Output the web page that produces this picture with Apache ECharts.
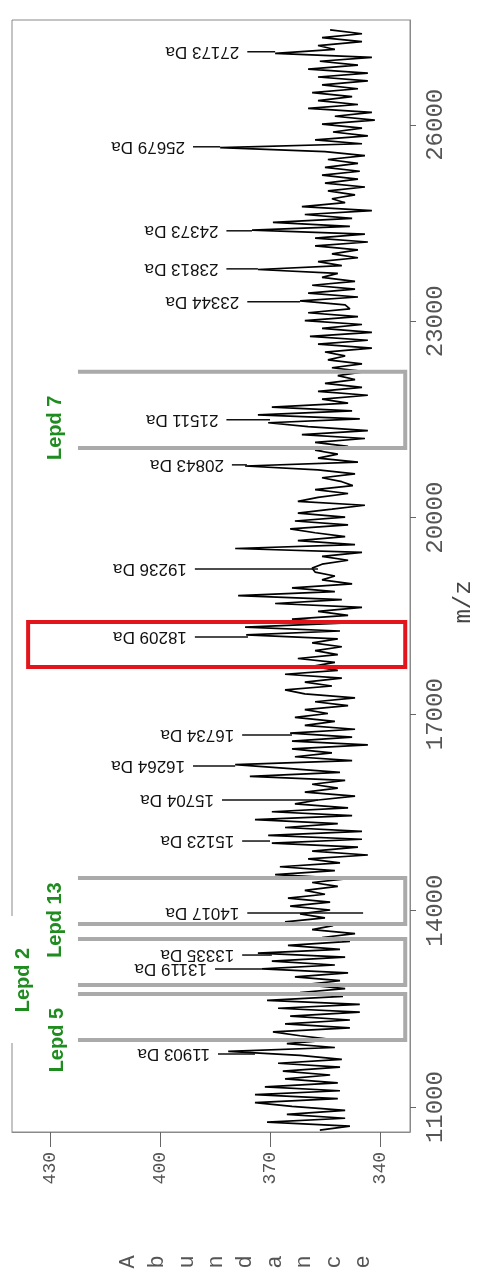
<!DOCTYPE html>
<html>
<head>
<meta charset="utf-8">
<title>Spectrum m/z</title>
<script src="https://cdn.jsdelivr.net/npm/echarts@6/dist/echarts.min.js"></script>
<style>
  html, body { margin: 0; padding: 0; background: #fff; }
  #chart { width: 493px; height: 1282px; }
</style>
</head>
<body>
<div id="chart"></div>
<script>
// spectrum: abundance read every 60 Da, starting at 10650 Da
const mzStart = 10650
const mzStep = 60
const abundance = [
  356.4, 348.2, 370.8, 349.5, 365.4, 349.5, 364.0, 374.1, 351.5, 374.1,
  350.9, 371.4, 351.5, 365.9, 353.6, 366.5, 350.9, 367.8, 350.4, 361.8,
  381.4, 352.3, 365.4, 352.8, 361.8, 369.2, 348.2, 365.9, 348.2, 364.5,
  345.5, 367.8, 345.5, 370.8, 350.1, 361.8, 349.5, 360.5, 350.9, 363.2,
  348.7, 372.2, 352.3, 369.5, 349.5, 373.3, 350.9, 365.1, 348.2, 355.8,
  346.8, 358.5, 352.8, 365.9, 355.0, 361.8, 353.6, 364.5, 353.6, 365.1,
  355.0, 360.5, 351.5, 358.5, 348.7, 368.6, 352.3, 367.3, 350.9, 359.6,
  343.3, 358.5, 346.0, 369.5, 344.9, 370.5, 344.9, 365.9, 351.5, 374.1,
  347.6, 369.5, 348.7, 363.2, 356.9, 346.8, 360.5, 351.5, 358.5, 349.5,
  375.5, 350.9, 364.5, 379.5, 347.6, 363.2, 353.1, 364.0, 343.3, 364.0,
  347.6, 364.5, 346.8, 360.5, 352.3, 363.2, 354.2, 360.5, 348.7, 357.7,
  346.8, 360.5, 365.9, 353.1, 360.5, 350.4, 365.9, 351.5, 358.5, 352.3,
  362.4, 351.5, 357.7, 350.4, 358.5, 351.5, 376.5, 350.9, 376.8, 350.4,
  364.0, 348.7, 356.9, 344.9, 368.6, 350.4, 378.7, 352.3, 364.0, 347.6,
  355.8, 352.3, 357.7, 358.5, 355.8, 348.7, 355.8, 344.9, 379.5, 346.8,
  362.4, 349.5, 357.7, 364.5, 348.7, 363.2, 349.5, 362.4, 353.1, 344.1,
  362.4, 356.9, 348.7, 357.7, 347.4, 350.4, 355.8, 346.8, 356.9, 376.8,
  346.0, 356.9, 351.5, 357.7, 348.7, 357.7, 344.1, 361.3, 343.3, 359.6,
  370.5, 345.5, 373.3, 347.6, 369.5, 348.7, 355.8, 343.3, 356.9, 344.9,
  355.0, 346.8, 351.5, 344.1, 353.1, 344.9, 354.2, 349.5, 355.0, 342.2,
  356.9, 343.3, 359.1, 342.2, 355.8, 344.9, 360.5, 346.0, 359.6, 348.2,
  349.5, 361.8, 346.0, 359.6, 346.8, 358.5, 346.8, 355.8, 351.5, 373.3,
  350.4, 356.9, 346.0, 353.1, 346.0, 357.7, 343.3, 357.7, 344.1, 374.9,
  348.2, 369.2, 347.6, 360.5, 342.2, 361.3, 349.5, 353.1, 346.8, 354.2,
  344.1, 355.0, 346.0, 355.8, 345.5, 355.0, 346.0, 354.2, 344.1, 355.0,
  383.6, 344.9, 357.7, 343.3, 352.8, 344.9, 355.8, 341.4, 352.3, 342.2,
  359.6, 346.0, 356.9, 347.6, 358.5, 346.0, 355.8, 343.3, 356.9, 343.3,
  359.6, 346.0, 356.4, 342.2, 368.6, 352.3, 356.9, 344.9, 355.8, 344.9,
  353.6
]

// labelled peaks (leader line runs from lineFrom to lineTo, in abundance)
const peakLabels = ['27173 Da', '25679 Da', '24373 Da', '23813 Da', '23344 Da', '21511 Da',
  '20843 Da', '19236 Da', '18209 Da', '16734 Da', '16264 Da', '15704 Da', '15123 Da',
  '14017 Da', '13335 Da', '13119 Da', '11903 Da']
const peakMz = [27115, 25664, 24381, 23800, 23296, 21494, 20807, 19218, 18179, 16682,
  16209, 15689, 15063, 13963, 13322, 13108, 11810]
const peakLineFrom = [376.2, 391.0, 381.9, 381.9, 376.2, 381.9, 380.4, 390.5, 390.5, 377.6,
  391.0, 383.1, 377.6, 376.2, 377.6, 385.0, 384.2]
const peakLineTo = [368.6, 383.6, 374.9, 373.3, 361.8, 370.0, 376.3, 356.9, 376.0, 364.0,
  379.5, 356.9, 370.0, 344.6, 369.5, 372.2, 374.1]

// Lepd regions
const lepdNames = ['Lepd 7', 'Lepd 13', 'Lepd 2', 'Lepd 5']
const lepdMzLow = [21066, 13795, 12864, 12023]
const lepdMzHigh = [22227, 14498, 13566, 12726]
const lepdLabelAbund = [428.6, 428.6, 437.4, 428.1]
const lepdLabelMz = [21372, 13856, 12940, 12023]
const boxAbundRange = [422.4, 333.1]

// highlighted region (red box)
const redMz = [17721, 18408]
const redAbundRange = [436.0, 333.1]

const mzTicks = [11000, 14000, 17000, 20000, 23000, 26000]
const abundTicks = [340, 370, 400, 430]
const titleLetters = ['A', 'b', 'u', 'n', 'd', 'a', 'n', 'c', 'e']

const spectrum = abundance.map((a, i) => [a, mzStart + i * mzStep])
const mono = '"Liberation Mono", "DejaVu Sans Mono", monospace'

const myChart = echarts.init(document.getElementById('chart'), null, { renderer: 'canvas' })

const option = {
  animation: false,
  backgroundColor: '#fff',
  grid: {
    left: 12,
    right: 83,
    top: 20,
    bottom: 150,
    show: true,
    borderColor: '#8a8a8a',
    borderWidth: 1
  },
  xAxis: {
    type: 'value',
    inverse: true, // abundance grows to the left
    min: 331.8,
    max: 440.4,
    position: 'bottom',
    splitLine: { show: false },
    axisLine: { show: true, lineStyle: { color: '#8a8a8a', width: 1 } },
    axisTick: { show: true, customValues: abundTicks, length: 15, lineStyle: { color: '#666' } },
    axisLabel: {
      customValues: abundTicks,
      rotate: 90,
      margin: 20,
      color: '#555',
      fontFamily: mono,
      fontSize: 18
    }
  },
  yAxis: {
    type: 'value',
    position: 'right',
    min: 10620,
    max: 27600,
    splitLine: { show: false },
    axisLine: { show: true, lineStyle: { color: '#8a8a8a', width: 1 } },
    axisTick: { show: true, customValues: mzTicks, length: 6, lineStyle: { color: '#666' } },
    axisLabel: {
      customValues: mzTicks,
      rotate: 90,
      margin: 14,
      color: '#555',
      fontFamily: mono,
      fontSize: 24,
      formatter: (v) => String(v)
    }
  },
  graphic: [
    // white patch over the frame behind the Lepd 2 / Lepd 5 labels
    { type: 'rect', z: 1, silent: true, shape: { x: 0, y: 916, width: 73, height: 127 }, style: { fill: '#fff' } },
    { type: 'text', x: 464, y: 602, rotation: Math.PI / 2, style: { text: 'm/z', font: '24px ' + mono, fill: '#444', align: 'center', verticalAlign: 'middle' } }
  ].concat(titleLetters.map((ch, i) => ({
    type: 'text',
    x: 128 + i * 29.4,
    y: 1262,
    rotation: Math.PI / 2,
    style: { text: ch, font: '22px ' + mono, fill: '#555', align: 'center', verticalAlign: 'middle' }
  }))),
  series: [
    {
      name: 'spectrum',
      type: 'line',
      data: spectrum,
      showSymbol: false,
      symbol: 'none',
      lineStyle: { color: '#000', width: 1.7 },
      z: 2
    },
    {
      // Lepd boxes, open on the left
      name: 'lepd boxes',
      type: 'custom',
      z: 4,
      data: lepdMzLow.map((m, i) => [m, lepdMzHigh[i], boxAbundRange[0], boxAbundRange[1]]),
      encode: { x: [2, 3], y: [0, 1] },
      renderItem (params, api) {
        const a = api.coord([api.value(2), api.value(0)])
        const b = api.coord([api.value(3), api.value(1)])
        return {
          type: 'polyline',
          shape: { points: [[a[0], b[1]], [b[0], b[1]], [b[0], a[1]], [a[0], a[1]]] },
          style: { stroke: '#aaaaaa', lineWidth: 4, fill: null }
        }
      }
    },
    {
      name: 'highlight',
      type: 'custom',
      z: 4,
      data: [[redMz[0], redMz[1], redAbundRange[0], redAbundRange[1]]],
      encode: { x: [2, 3], y: [0, 1] },
      renderItem (params, api) {
        const a = api.coord([api.value(2), api.value(0)])
        const b = api.coord([api.value(3), api.value(1)])
        return {
          type: 'rect',
          shape: { x: a[0], y: b[1], width: b[0] - a[0], height: a[1] - b[1] },
          style: { stroke: '#e3141b', lineWidth: 4, fill: null }
        }
      }
    },
    {
      name: 'lepd labels',
      type: 'custom',
      z: 5,
      data: lepdNames.map((n, i) => [lepdLabelAbund[i], lepdLabelMz[i], n]),
      encode: { x: 0, y: 1 },
      renderItem (params, api) {
        const p = api.coord([api.value(0), api.value(1)])
        return {
          type: 'text',
          x: p[0],
          y: p[1],
          rotation: Math.PI / 2,
          style: {
            text: lepdNames[params.dataIndex],
            font: 'bold 20px "Liberation Sans", Arial, sans-serif',
            fill: '#1e8c1e',
            align: 'center',
            verticalAlign: 'middle'
          }
        }
      }
    },
    {
      // peak labels, upside down like the scanned page
      name: 'peaks',
      type: 'custom',
      z: 5,
      data: peakMz.map((m, i) => [peakLineFrom[i], m, peakLineTo[i]]),
      encode: { x: [0, 2], y: 1 },
      renderItem (params, api) {
        const s = api.coord([api.value(0), api.value(1)])
        const t = api.coord([api.value(2), api.value(1)])
        return {
          type: 'group',
          children: [
            { type: 'line', shape: { x1: s[0], y1: s[1], x2: t[0], y2: t[1] }, style: { stroke: '#111', lineWidth: 1.5 } },
            {
              type: 'text',
              x: s[0] - 8,
              y: s[1],
              rotation: Math.PI,
              style: {
                text: peakLabels[params.dataIndex],
                font: '17px "Liberation Sans", Arial, sans-serif',
                fill: '#111',
                align: 'left',
                verticalAlign: 'middle'
              }
            }
          ]
        }
      }
    }
  ]
}
myChart.setOption(option)
</script>
</body>
</html>
